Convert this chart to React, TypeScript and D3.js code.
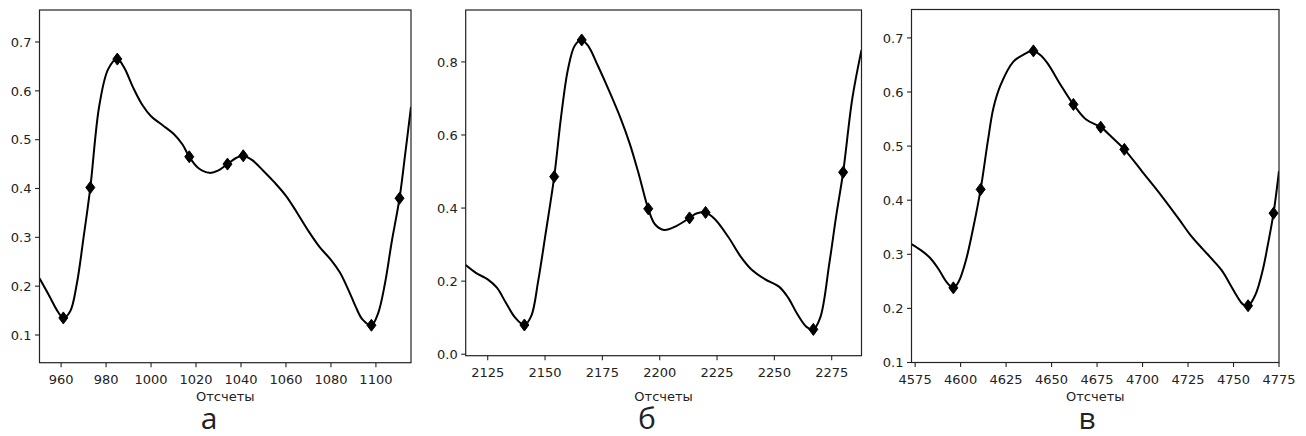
import React from "react";
import * as d3 from "d3";

// ---- Panel а ----
const aX = [950.4, 955, 958, 961, 964, 967, 970, 973, 977, 981, 985, 988, 992, 996, 1000, 1005, 1010, 1014, 1017, 1021, 1026, 1030, 1034, 1038, 1041, 1045, 1050, 1055, 1060, 1065, 1070, 1075, 1080, 1084, 1088, 1091, 1094, 1098, 1101, 1104, 1107, 1110.5, 1113, 1115.6];
const aY = [0.216, 0.178, 0.152, 0.135, 0.148, 0.205, 0.3, 0.402, 0.57, 0.645, 0.665, 0.648, 0.607, 0.572, 0.548, 0.53, 0.512, 0.49, 0.465, 0.442, 0.432, 0.437, 0.45, 0.463, 0.467, 0.458, 0.436, 0.412, 0.385, 0.35, 0.313, 0.28, 0.254, 0.228, 0.19, 0.158, 0.132, 0.12, 0.145, 0.205, 0.29, 0.38, 0.47, 0.567];
const aMarkX = [961, 973, 985, 1017, 1034, 1041, 1098, 1110.5];
const aMarkY = [0.135, 0.402, 0.665, 0.465, 0.45, 0.467, 0.12, 0.38];
const aXTicks = [960, 980, 1000, 1020, 1040, 1060, 1080, 1100];
const aYTicks = [0.1, 0.2, 0.3, 0.4, 0.5, 0.6, 0.7];

// ---- Panel б ----
const bX = [2115.4, 2120, 2125, 2129, 2133, 2137, 2141, 2144, 2147, 2150, 2154, 2157, 2160, 2163, 2166, 2169, 2173, 2178, 2183, 2187, 2191, 2195, 2198, 2202, 2207, 2213, 2216, 2220, 2224, 2230, 2235, 2240, 2246, 2252, 2256, 2260, 2264, 2267, 2270, 2274, 2277, 2280, 2284, 2288];
const bY = [0.244, 0.222, 0.205, 0.182, 0.14, 0.1, 0.08, 0.105, 0.2, 0.32, 0.486, 0.65, 0.78, 0.845, 0.86, 0.842, 0.79, 0.72, 0.645, 0.575, 0.49, 0.398, 0.355, 0.34, 0.35, 0.373, 0.385, 0.388, 0.37, 0.32, 0.27, 0.232, 0.205, 0.185, 0.155, 0.11, 0.075, 0.068, 0.1, 0.25, 0.38, 0.498, 0.7, 0.833];
const bMarkX = [2141, 2154, 2166, 2195, 2213, 2220, 2267, 2280];
const bMarkY = [0.08, 0.486, 0.86, 0.398, 0.373, 0.388, 0.068, 0.498];
const bXTicks = [2125, 2150, 2175, 2200, 2225, 2250, 2275];
const bYTicks = [0.0, 0.2, 0.4, 0.6, 0.8];

// ---- Panel в ----
const cX = [4573, 4578, 4583, 4588, 4592, 4596, 4599, 4603, 4607, 4611, 4615, 4618, 4622, 4629, 4635, 4640, 4644, 4648, 4655, 4662, 4669, 4677, 4683, 4690, 4700, 4710, 4720, 4726, 4733, 4739, 4744, 4748, 4752, 4755, 4758, 4762, 4766, 4769, 4772, 4775];
const cY = [0.319, 0.308, 0.294, 0.272, 0.25, 0.238, 0.25, 0.29, 0.35, 0.42, 0.51, 0.57, 0.613, 0.656, 0.67, 0.676, 0.668, 0.652, 0.613, 0.577, 0.549, 0.535, 0.517, 0.494, 0.452, 0.41, 0.365, 0.337, 0.31, 0.288, 0.268, 0.245, 0.222, 0.208, 0.205, 0.225, 0.27, 0.32, 0.376, 0.454];
const cMarkX = [4596, 4611, 4640, 4662, 4677, 4690, 4758, 4772];
const cMarkY = [0.238, 0.42, 0.676, 0.577, 0.535, 0.494, 0.205, 0.376];
const cXTicks = [4575, 4600, 4625, 4650, 4675, 4700, 4725, 4750, 4775];
const cYTicks = [0.1, 0.2, 0.3, 0.4, 0.5, 0.6, 0.7];

const xLabel = "Отсчеты";
const panelLetters = ["а", "б", "в"];

type Panel = {
  xs: number[]; ys: number[]; mx: number[]; my: number[];
  xTicks: number[]; yTicks: number[];
  xDom: [number, number]; yDom: [number, number];
  box: { l: number; r: number; t: number; b: number };
  letterX: number;
  letter: string;
};

const panels: Panel[] = [
  { xs: aX, ys: aY, mx: aMarkX, my: aMarkY, xTicks: aXTicks, yTicks: aYTicks,
    xDom: [950.4, 1115.6], yDom: [0.0433, 0.7655],
    box: { l: 39.5, r: 411, t: 10, b: 362.7 }, letterX: 209, letter: panelLetters[0] },
  { xs: bX, ys: bY, mx: bMarkX, my: bMarkY, xTicks: bXTicks, yTicks: bYTicks,
    xDom: [2115.4, 2288], yDom: [-0.004, 0.942],
    box: { l: 465.7, r: 861.5, t: 10, b: 355.7 }, letterX: 647, letter: panelLetters[1] },
  { xs: cX, ys: cY, mx: cMarkX, my: cMarkY, xTicks: cXTicks, yTicks: cYTicks,
    xDom: [4573, 4775], yDom: [0.1, 0.7525],
    box: { l: 911.5, r: 1279, t: 9.5, b: 362.5 }, letterX: 1087, letter: panelLetters[2] },
];

const tickFont = "DejaVu Sans, sans-serif";

function PanelView({ p, idx }: { p: Panel; idx: number }) {
  const { box } = p;
  const x = d3.scaleLinear().domain(p.xDom).range([box.l, box.r]);
  const y = d3.scaleLinear().domain(p.yDom).range([box.b, box.t]);
  const pts: [number, number][] = p.xs.map((v, i) => [v, p.ys[i]]);
  const line = d3.line<[number, number]>()
    .x((d) => x(d[0]))
    .y((d) => y(d[1]))
    .curve(d3.curveCatmullRom.alpha(0.5));
  const clipId = `clip${idx}`;
  const diamond = (cx: number, cy: number) => {
    const h = 6, w = 4.5;
    return `M${cx},${cy - h}L${cx + w},${cy}L${cx},${cy + h}L${cx - w},${cy}Z`;
  };
  const cxMid = (box.l + box.r) / 2;
  return (
    <g>
      <defs>
        <clipPath id={clipId}>
          <rect x={box.l} y={box.t} width={box.r - box.l} height={box.b - box.t} />
        </clipPath>
      </defs>
      <g clipPath={`url(#${clipId})`}>
        <path d={line(pts) || ""} fill="none" stroke="#000" strokeWidth={2} />
        {p.mx.map((v, i) => (
          <path key={i} d={diamond(x(v), y(p.my[i]))} fill="#000" stroke="#000" strokeWidth={1} />
        ))}
      </g>
      <rect x={box.l} y={box.t} width={box.r - box.l} height={box.b - box.t}
        fill="none" stroke="#222" strokeWidth={1.2} />
      {p.xTicks.map((t) => (
        <g key={`x${t}`}>
          <line x1={x(t)} x2={x(t)} y1={box.b} y2={box.b + 4.5} stroke="#222" strokeWidth={1.1} />
          <text x={x(t)} y={box.b + 21} textAnchor="middle" fontFamily={tickFont} fontSize={13} fill="#222">{t}</text>
        </g>
      ))}
      {p.yTicks.map((t) => (
        <g key={`y${t}`}>
          <line x1={box.l - 4.5} x2={box.l} y1={y(t)} y2={y(t)} stroke="#222" strokeWidth={1.1} />
          <text x={box.l - 8} y={y(t) + 4.7} textAnchor="end" fontFamily={tickFont} fontSize={13} fill="#222">{t.toFixed(1)}</text>
        </g>
      ))}
      <text x={cxMid} y={401} textAnchor="middle" fontFamily={tickFont} fontSize={13} fill="#222">{xLabel}</text>
      <text x={p.letterX} y={429} textAnchor="middle" fontFamily="Open Sans, sans-serif" fontSize={30} fill="#222">{p.letter}</text>
    </g>
  );
}

export default function App() {
  return (
    <svg width={1306} height={436} style={{ position: "absolute", left: 0, top: 0, background: "#fff" }}>
      <rect x={0} y={0} width={1306} height={436} fill="#fff" />
      {panels.map((p, i) => <PanelView key={i} p={p} idx={i} />)}
    </svg>
  );
}
